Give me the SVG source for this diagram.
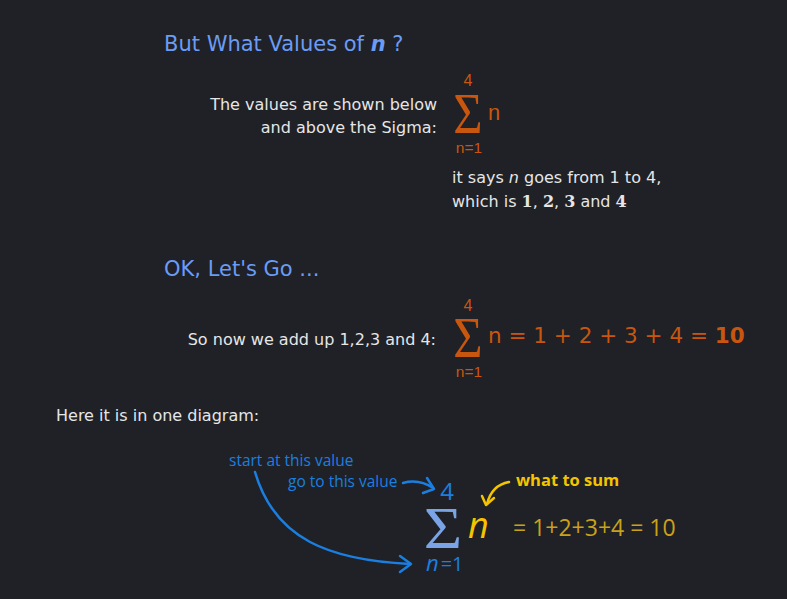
<svg xmlns="http://www.w3.org/2000/svg" width="787" height="599" viewBox="0 0 787 599">
<defs>
<style>
.bg{fill:#1f2126}
.h{font-family:"DejaVu Sans",sans-serif;font-size:21px;fill:#6b9cf5}
.t{font-family:"DejaVu Sans",sans-serif;font-size:16px;fill:#e6e6e6}
.o{font-family:"Liberation Sans",Arial,sans-serif;fill:#c8560f}
.sig{font-family:"Liberation Serif","Times New Roman",serif}
.eq{font-family:"DejaVu Sans",sans-serif;font-size:21.5px;fill:#c8560f}
.bl{font-family:"Open Sans",sans-serif;font-size:15.5px;fill:#1a7fe0}
.y{font-family:"Open Sans",sans-serif;fill:#f5c400}
.conn{fill:none;stroke-width:2.5;stroke-linecap:round;stroke-linejoin:round}
</style>
</defs>
<rect class="bg" x="0" y="0" width="787" height="599"/>

<g id="title1">
<text class="h" x="164" y="51">But What Values of <tspan font-weight="bold" font-style="italic">n</tspan> ?</text>
</g>

<g id="explain1">
<text class="t" x="437" y="110" text-anchor="end">The values are shown below</text>
<text class="t" x="437" y="133" text-anchor="end">and above the Sigma:</text>
</g>

<g id="sigma1">
<text class="o" x="468" y="86" font-size="16" text-anchor="middle">4</text>
<text class="o sig" transform="translate(468,133) scale(0.9,1)" font-size="56" text-anchor="middle">Σ</text>
<text class="o" x="488" y="120" font-size="22">n</text>
<text class="o" x="469" y="153" font-size="15.5" text-anchor="middle">n=1</text>
</g>

<g id="explain2">
<text class="t" x="452" y="183">it says <tspan font-style="italic">n</tspan> goes from 1 to 4,</text>
<text class="t" x="452" y="207">which is <tspan font-family="DejaVu Serif,serif" font-weight="bold">1</tspan>, <tspan font-family="DejaVu Serif,serif" font-weight="bold">2</tspan>, <tspan font-family="DejaVu Serif,serif" font-weight="bold">3</tspan> and <tspan font-family="DejaVu Serif,serif" font-weight="bold">4</tspan></text>
</g>

<g id="title2">
<text class="h" x="164" y="276">OK, Let's Go ...</text>
</g>

<g id="explain3">
<text class="t" x="436" y="345" text-anchor="end" font-family="Liberation Sans,Arial,sans-serif" font-size="17.5">So now we add up 1,2,3 and 4:</text>
</g>

<g id="sigma2">
<text class="o" x="468" y="311" font-size="16" text-anchor="middle">4</text>
<text class="o sig" transform="translate(468,357) scale(0.9,1)" font-size="56" text-anchor="middle">Σ</text>
<text class="eq" x="488" y="343">n = 1 + 2 + 3 + 4 = <tspan font-weight="bold">10</tspan></text>
<text class="o" x="469" y="377" font-size="15.5" text-anchor="middle">n=1</text>
</g>

<g id="intro">
<text class="t" x="56" y="421">Here it is in one diagram:</text>
</g>

<g id="label-start">
<text class="bl" x="229" y="466">start at this value</text>
</g>
<g id="label-goto">
<text class="bl" x="288" y="487">go to this value</text>
</g>
<g id="label-what">
<text class="y" x="516" y="486" font-size="16.5" font-weight="bold">what to sum</text>
</g>

<g id="sigma3">
<text x="447" y="500" font-family="Open Sans,sans-serif" font-size="24" fill="#1a7fe0" text-anchor="middle">4</text>
<text class="sig" transform="translate(443,548) scale(1.12,1)" font-size="59" fill="#7aa4e6" text-anchor="middle">Σ</text>
<text class="y" x="468" y="538" font-size="36" font-style="italic">n</text>
<text x="426" y="571" font-family="Open Sans,sans-serif" font-size="22" fill="#1a7fe0"><tspan font-style="italic">n</tspan><tspan font-size="20" dx="2">=1</tspan></text>
<text x="513" y="536" font-family="Open Sans,sans-serif" font-size="23" fill="#c9a21a">= 1+2+3+4 = 10</text>
</g>

<g id="connectors">
<path class="conn" stroke="#1a7fe0" d="M255,472 C275,540 330,560 410,564"/>
<path class="conn" stroke="#1a7fe0" d="M400,556 L411,564 L400,572"/>
<path class="conn" stroke="#1a7fe0" d="M403,483 C414,480 424,482 433,488"/>
<path class="conn" stroke="#1a7fe0" d="M427,478 L434,489 L423,493"/>
<path class="conn" stroke="#f5c400" d="M509,482 C498,484 490,492 487,504"/>
<path class="conn" stroke="#f5c400" d="M482,496 L486,505 L494,498"/>
</g>
</svg>
